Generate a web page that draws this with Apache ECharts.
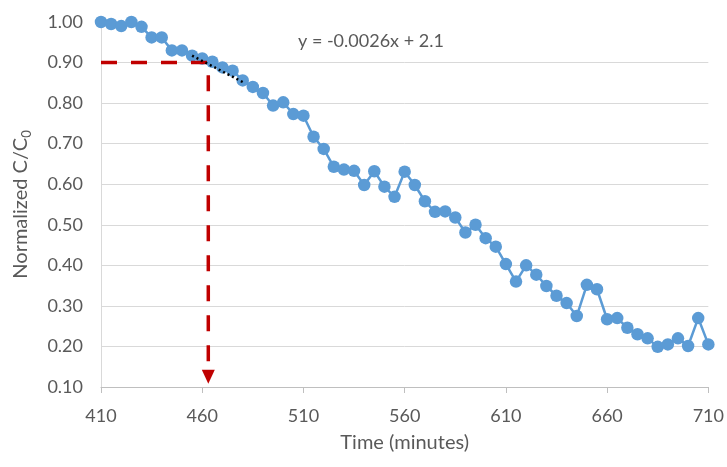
<!DOCTYPE html>
<html>
<head>
<meta charset="utf-8">
<script src="https://cdn.jsdelivr.net/npm/echarts@6/dist/echarts.min.js"></script>
<style>
  html, body { margin: 0; padding: 0; background: #ffffff; }
  #chart { width: 727px; height: 467px; }
</style>
</head>
<body>
<div id="chart"></div>
<script>
// Sampling times (minutes) and normalized concentration C/C0
const timeMinutes = [
  410, 415, 420, 425, 430, 435, 440, 445, 450, 455,
  460, 465, 470, 475, 480, 485, 490, 495, 500, 505,
  510, 515, 520, 525, 530, 535, 540, 545, 550, 555,
  560, 565, 570, 575, 580, 585, 590, 595, 600, 605,
  610, 615, 620, 625, 630, 635, 640, 645, 650, 655,
  660, 665, 670, 675, 680, 685, 690, 695, 700, 705,
  710
];
const normalizedC = [
  1.000, 0.995, 0.990, 1.000, 0.988, 0.962, 0.962, 0.930, 0.930, 0.917,
  0.910, 0.902, 0.888, 0.880, 0.856, 0.840, 0.825, 0.794, 0.802, 0.773,
  0.769, 0.717, 0.687, 0.643, 0.636, 0.633, 0.598, 0.632, 0.594, 0.569,
  0.631, 0.598, 0.558, 0.532, 0.533, 0.518, 0.481, 0.500, 0.467, 0.446,
  0.403, 0.360, 0.400, 0.377, 0.349, 0.325, 0.307, 0.275, 0.352, 0.341,
  0.267, 0.270, 0.246, 0.230, 0.220, 0.199, 0.205, 0.220, 0.201, 0.270,
  0.205
];

// Axis ticks
const xTickLabels = [410, 460, 510, 560, 610, 660, 710];
const yTickLabels = [0.10, 0.20, 0.30, 0.40, 0.50, 0.60, 0.70, 0.80, 0.90, 1.00];

// Linear fit over the early window: y = -0.0026x + 2.1
const trendSlope = -0.0026;
const trendIntercept = 2.1;
const trendWindow = [455, 480];

// 90% threshold and the time it is reached
const thresholdLevel = 0.90;
const thresholdTime = 463;
const arrowTipLevel = 0.125;

// The x axis is drawn relative to its first tick so ticks fall on 410, 460, ...
const xOrigin = xTickLabels[0];
const xStep = xTickLabels[1] - xTickLabels[0];
const toAxisX = t => t - xOrigin;

const measured = timeMinutes.map((t, i) => [toAxisX(t), normalizedC[i]]);
const trendLine = trendWindow.map(t => [toAxisX(t), trendSlope * t + trendIntercept]);
const thresholdPath = [
  [toAxisX(xTickLabels[0]), thresholdLevel],
  [toAxisX(thresholdTime), thresholdLevel],
  [toAxisX(thresholdTime), arrowTipLevel]
];

const FONT = 'Lato, "Open Sans", sans-serif';
const TEXT = '#595959';

const chart = echarts.init(document.getElementById('chart'), null, { renderer: 'canvas' });
chart.setOption({
  animation: false,
  backgroundColor: '#ffffff',
  grid: { left: 101, right: 18, top: 22, bottom: 80, containLabel: false },
  xAxis: {
    type: 'value',
    min: 0,
    max: toAxisX(xTickLabels[xTickLabels.length - 1]),
    interval: xStep,
    name: 'Time (minutes)',
    nameLocation: 'middle',
    nameGap: 46,
    nameTextStyle: { color: TEXT, fontFamily: FONT, fontSize: 20 },
    axisLine: { show: true, lineStyle: { color: '#BFBFBF', width: 1 } },
    axisTick: { show: true, length: 6, lineStyle: { color: '#BFBFBF' } },
    axisLabel: {
      color: TEXT, fontFamily: FONT, fontSize: 18, margin: 20,
      formatter: v => String(v + xOrigin)
    },
    splitLine: { show: false }
  },
  yAxis: {
    type: 'value',
    min: yTickLabels[0],
    max: yTickLabels[yTickLabels.length - 1],
    interval: 0.1,
    name: '{n|Normalized C/C}{s|0}',
    nameLocation: 'middle',
    nameGap: 68,
    nameRotate: 90,
    nameTextStyle: {
      color: TEXT, fontFamily: FONT, fontSize: 20,
      rich: {
        n: { color: TEXT, fontFamily: FONT, fontSize: 20 },
        s: { color: TEXT, fontFamily: FONT, fontSize: 13, verticalAlign: 'bottom', padding: [12, 0, 0, 0] }
      }
    },
    axisLine: { show: true, lineStyle: { color: '#D9D9D9', width: 1 } },
    axisTick: { show: false },
    axisLabel: {
      color: TEXT, fontFamily: FONT, fontSize: 18, margin: 18,
      formatter: v => v.toFixed(2)
    },
    splitLine: { show: true, showMaxLine: false, lineStyle: { color: '#D9D9D9', width: 1 } }
  },
  series: [
    {
      name: 'C/C0',
      type: 'line',
      data: measured,
      symbol: 'circle',
      symbolSize: 12.5,
      itemStyle: { color: '#5B9BD5' },
      lineStyle: { color: '#5B9BD5', width: 2.5 },
      z: 2
    },
    {
      name: 'Threshold',
      type: 'line',
      data: thresholdPath,
      symbol: 'none',
      lineStyle: { color: '#C00000', width: 3.5, type: [16, 14] },
      markPoint: {
        symbol: 'triangle',
        symbolRotate: 180,
        symbolSize: [13, 14],
        itemStyle: { color: '#C00000' },
        label: { show: false },
        data: [{ coord: [toAxisX(thresholdTime), arrowTipLevel] }]
      },
      z: 3
    },
    {
      name: 'Linear fit',
      type: 'line',
      data: trendLine,
      symbol: 'none',
      lineStyle: { color: '#000000', width: 2.5, type: [2, 3] },
      z: 4
    }
  ],
  graphic: [
    {
      type: 'text',
      left: 298,
      top: 32,
      style: {
        text: 'y = -0.0026x + 2.1',
        fill: TEXT,
        font: '18px ' + FONT
      }
    }
  ]
});
</script>
</body>
</html>
